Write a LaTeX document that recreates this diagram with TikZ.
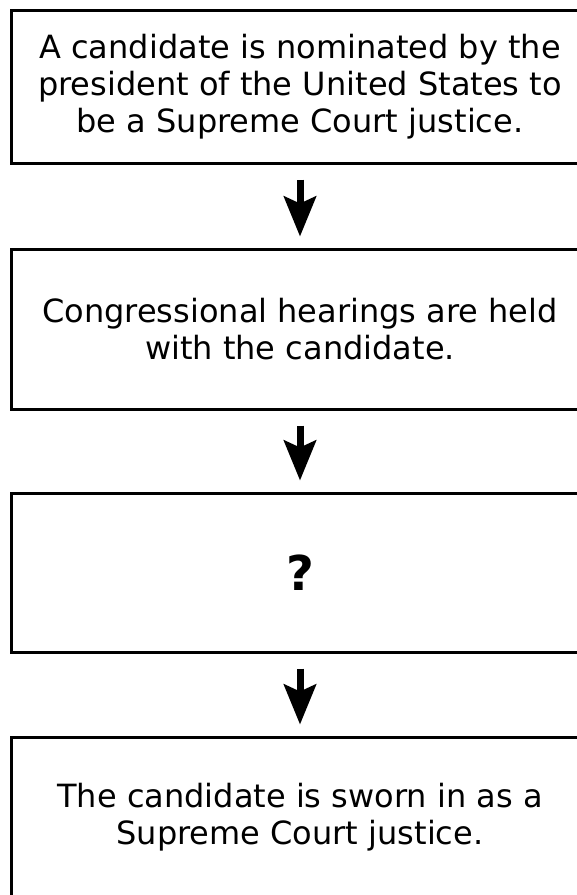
\documentclass[tikz,border=0pt]{standalone}
\usepackage{fontspec}
\setmainfont{DejaVu Sans}
\usetikzlibrary{arrows.meta}

\begin{document}
\begin{tikzpicture}[x=1pt,y=-1pt,
    stepbox/.style={draw,line width=3pt,minimum width=578pt,inner sep=0pt,
      align=center,font=\fontsize{32}{37}\selectfont},
    flowarrow/.style={line width=7pt,-{Stealth[length=40pt,width=32pt,inset=7pt]},
      shorten <=15pt,shorten >=11pt}]
  \useasboundingbox (0,0) rectangle (577,895);
  \node[stepbox,minimum height=153pt] (nominate) at (300,86.5)
    {A candidate is nominated by the\\president of the United States to\\be a Supreme Court justice.};
  \node[stepbox,minimum height=160pt] (hearings) at (300,329)
    {Congressional hearings are held\\with the candidate.};
  \node[stepbox,minimum height=159pt,font=\bfseries\fontsize{48}{56}\selectfont] (unknown) at (300,572.5) {?};
  \node[stepbox,minimum height=160pt] (sworn) at (300,817)
    {The candidate is sworn in as a\\Supreme Court justice.};
  \draw[flowarrow] (nominate.south) -- (hearings.north);
  \draw[flowarrow] (hearings.south) -- (unknown.north);
  \draw[flowarrow] (unknown.south) -- (sworn.north);
\end{tikzpicture}
\end{document}
